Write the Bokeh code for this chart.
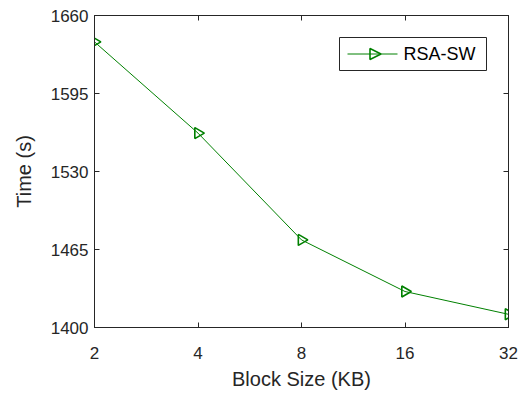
from bokeh.plotting import figure
from bokeh.models import (FixedTicker, LinearAxis, LogAxis, Range1d, BoxAnnotation,
                          PolyAnnotation, Label)
from bokeh.embed import file_html
from bokeh.resources import INLINE

block_sizes = [2, 4, 8, 16, 32]
times = [1638, 1562, 1473, 1430, 1411]
x_ticks = [2, 4, 8, 16, 32]
y_ticks = [1400, 1465, 1530, 1595, 1660]
series_name = "RSA-SW"

FONT = "Liberation Sans"
GREEN = "#008000"
AX = "#262626"

p = figure(width=528, height=397, x_axis_type="log", output_backend="svg",
           toolbar_location=None, x_range=Range1d(2, 32), y_range=Range1d(1400, 1660),
           min_border_left=94, min_border_right=20, min_border_top=15, min_border_bottom=70)
p.background_fill_color = "white"
p.border_fill_color = "white"
p.xgrid.visible = False
p.ygrid.visible = False
p.outline_line_color = AX
p.outline_line_width = 1

p.xaxis[0].ticker = FixedTicker(ticks=x_ticks)
p.xaxis[0].major_label_overrides = {t: str(t) for t in x_ticks}
p.yaxis[0].ticker = FixedTicker(ticks=y_ticks)

def style(ax):
    ax.axis_line_color = AX
    ax.major_tick_line_color = AX
    ax.major_tick_in = 5
    ax.major_tick_out = 0
    ax.minor_tick_line_color = None
    ax.major_label_text_font = FONT
    ax.major_label_text_font_size = "17px"
    ax.major_label_text_color = AX
    ax.axis_label_text_font = FONT
    ax.axis_label_text_font_size = "20px"
    ax.axis_label_text_font_style = "normal"
    ax.axis_label_text_color = AX

style(p.xaxis[0])
style(p.yaxis[0])
p.xaxis[0].axis_label = "Block Size (KB)"
p.yaxis[0].axis_label = "Time (s)"
p.xaxis[0].major_label_standoff = 19
p.xaxis[0].axis_label_standoff = 6
p.yaxis[0].major_label_standoff = 6
p.yaxis[0].axis_label_standoff = 13

top = LogAxis(ticker=FixedTicker(ticks=x_ticks))
style(top)
top.major_label_overrides = {t: "" for t in x_ticks}
top.major_label_standoff = 0
p.add_layout(top, "above")
right = LinearAxis(ticker=FixedTicker(ticks=y_ticks))
style(right)
right.major_label_overrides = {t: "" for t in y_ticks}
right.major_label_standoff = 0
p.add_layout(right, "right")

p.line(block_sizes, times, line_color=GREEN, line_width=1)
p.scatter(block_sizes, times, marker="triangle", angle=-1.5708, size=11,
          fill_color=None, line_color=GREEN, line_width=1.6)

# legend (drawn by hand so that its marker points right, as in the plot)
p.add_layout(BoxAnnotation(left=339, right=486, top=37, bottom=70,
                           left_units="canvas", right_units="canvas",
                           top_units="canvas", bottom_units="canvas",
                           fill_color="white", fill_alpha=1, line_color=AX,
                           line_width=1, line_alpha=1))
p.add_layout(PolyAnnotation(xs=[347, 397], ys=[53.5, 53.5], xs_units="canvas",
                            ys_units="canvas", fill_color=None, line_color=GREEN,
                            line_width=1, line_alpha=1))
p.add_layout(PolyAnnotation(xs=[369.5, 369.5, 380.5], ys=[48, 59, 53.5], xs_units="canvas",
                            ys_units="canvas", fill_color=None, line_color=GREEN,
                            line_width=1.6, line_alpha=1))
p.add_layout(Label(x=403, y=53.5, x_units="canvas", y_units="canvas", text=series_name,
                   text_font=FONT, text_font_size="18px", text_color="black",
                   text_baseline="middle", text_align="left"))

open("out.html", "w").write(file_html(p, INLINE))
